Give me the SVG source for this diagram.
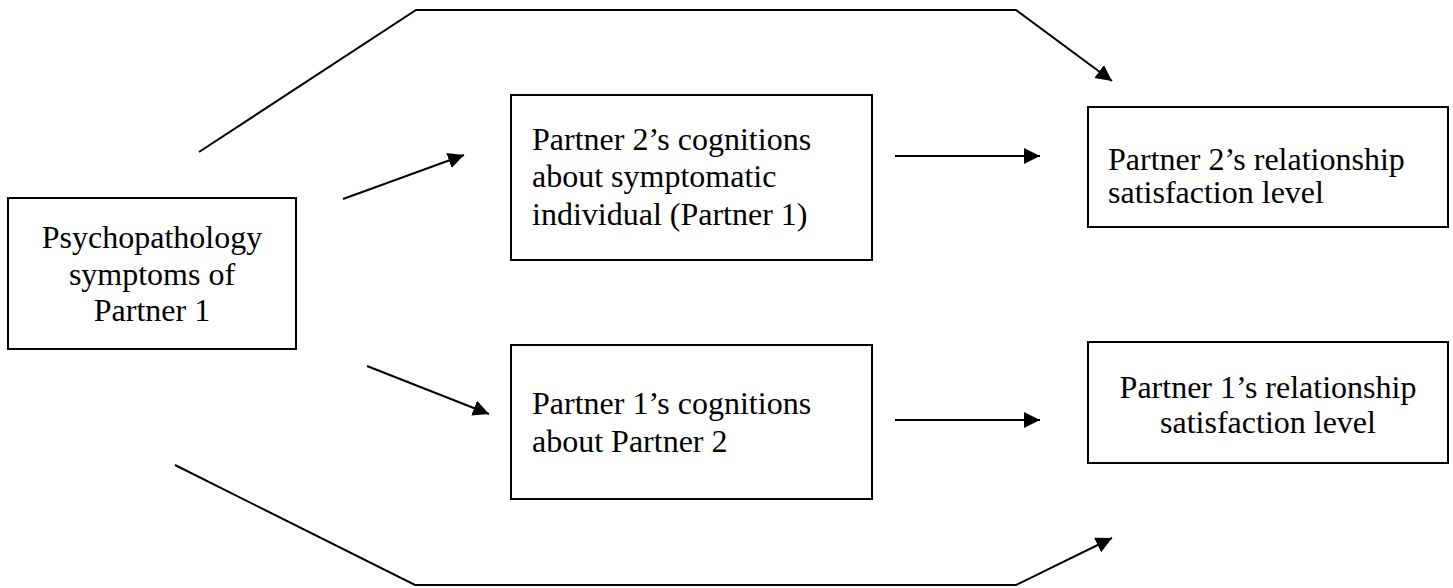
<svg xmlns="http://www.w3.org/2000/svg" width="1453" height="588" viewBox="0 0 1453 588">
<style>
.box{fill:#fff;stroke:#000;stroke-width:2}
.t{font-family:"Liberation Serif","Times New Roman",serif;font-size:32px;fill:#000}
.c{text-anchor:middle}
.ln{fill:none;stroke:#000;stroke-width:2}
</style>
<defs>
<marker id="ah" markerUnits="userSpaceOnUse" markerWidth="17" markerHeight="17" refX="16" refY="8" orient="auto">
<path d="M0,0 L16,8 L0,16 z" fill="#000"/>
</marker>
</defs>
<rect width="1453" height="588" fill="#fff"/>
<g id="connectors">
<polyline class="ln" points="199,152 416,10 1016,10 1112,81" marker-end="url(#ah)"/>
<polyline class="ln" points="175,465 415,585 1016,585 1112,538" marker-end="url(#ah)"/>
<line class="ln" x1="343" y1="199" x2="464" y2="155" marker-end="url(#ah)"/>
<line class="ln" x1="367" y1="366" x2="489" y2="414" marker-end="url(#ah)"/>
<line class="ln" x1="895" y1="156" x2="1040" y2="156" marker-end="url(#ah)"/>
<line class="ln" x1="895" y1="420" x2="1040" y2="420" marker-end="url(#ah)"/>
</g>
<g id="n1">
<rect class="box" x="8" y="198" width="288" height="151"/>
<text class="t c" x="152" y="248">Psychopathology</text>
<text class="t c" x="152" y="285">symptoms of</text>
<text class="t c" x="152" y="321">Partner 1</text>
</g>
<g id="n2">
<rect class="box" x="511" y="95" width="361" height="165"/>
<text class="t" x="532" y="150">Partner 2’s cognitions</text>
<text class="t" x="532" y="187">about symptomatic</text>
<text class="t" x="532" y="225">individual (Partner 1)</text>
</g>
<g id="n3">
<rect class="box" x="511" y="345" width="361" height="154"/>
<text class="t" x="532" y="414">Partner 1’s cognitions</text>
<text class="t" x="532" y="452">about Partner 2</text>
</g>
<g id="n4">
<rect class="box" x="1088" y="107" width="360" height="120"/>
<text class="t" x="1108" y="170">Partner 2’s relationship</text>
<text class="t" x="1108" y="203">satisfaction level</text>
</g>
<g id="n5">
<rect class="box" x="1088" y="342" width="360" height="121"/>
<text class="t c" x="1268" y="398">Partner 1’s relationship</text>
<text class="t c" x="1268" y="433">satisfaction level</text>
</g>
</svg>
